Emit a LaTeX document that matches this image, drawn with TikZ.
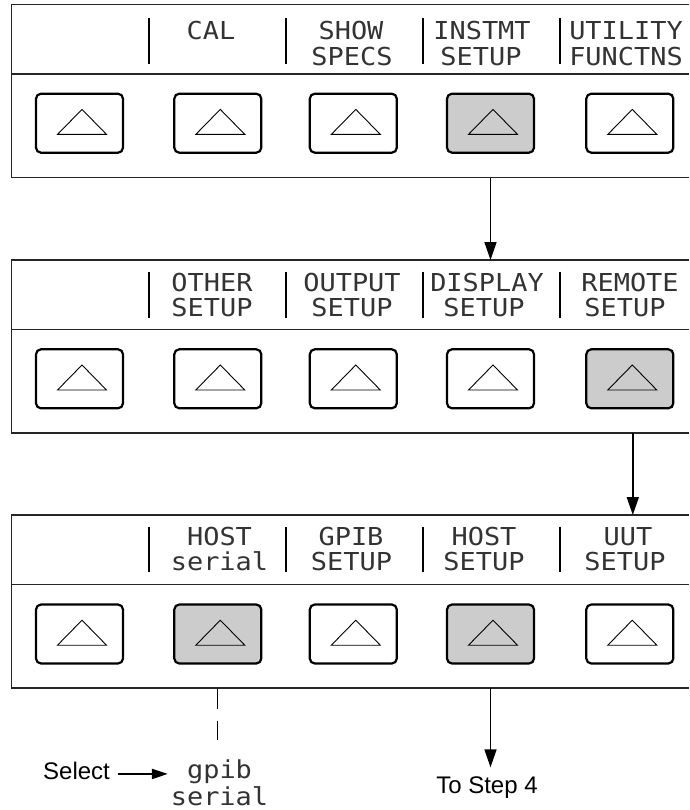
\documentclass[tikz,border=0pt]{standalone}
\usepackage{fontspec}
\setmainfont{Liberation Sans}
\newfontfamily\lcdfont[FakeStretch=1.09]{DejaVu Sans Mono}
\usetikzlibrary{arrows.meta}
\newcommand\keytri[1]{\draw[tri] ([shift={(2.5pt,13.8pt)}]#1.center) -- ([shift={(-22pt,-11.2pt)}]#1.center) -- ([shift={(27pt,-11.2pt)}]#1.center) -- cycle;}
\begin{document}
\begin{tikzpicture}[x=1pt,y=-1pt,
  panel/.style={draw=none, minimum width=677.5pt, minimum height=172.5pt, inner sep=0pt, anchor=north west},
  panelline/.style={line width=1.2pt, draw=black!85},
  key/.style={draw=black, line width=2.2pt, rounded corners=5pt, minimum width=87pt, minimum height=59pt, inner sep=0pt, fill=white},
  keyon/.style={key, fill=black!20},
  tri/.style={line width=0.9pt, draw=black},
  sepbar/.style={line width=2pt, draw=black},
  lcd/.style={inner sep=0pt, anchor=base, font=\lcdfont\fontsize{24.7}{26}\selectfont, text=black!80},
  lbl/.style={inner sep=0pt, anchor=base, font=\fontsize{24}{26}\selectfont},
  arr/.style={line width=1.6pt, draw=black, -{Triangle[length=18pt,width=12pt]}},
  arrs/.style={line width=2pt, draw=black, -{Triangle[length=16pt,width=10pt]}},
]
\useasboundingbox (0,0) rectangle (689,810);

% ---------- panels ----------
\node[panel] (p1) at (11.5,4.7) {};
\node[panel] (p2) at (11.5,260) {};
\node[panel] (p3) at (11.5,515) {};
\foreach \p in {p1,p2,p3}{
  \draw[panelline] (\p.north east) -- (\p.north west) -- (\p.south west) -- (\p.south east);
  \draw[panelline] ([yshift=-69.3pt]\p.north west) -- ([yshift=-69.3pt]\p.north east);
}

% separator bars
\foreach \x in {149,285.7,422.5,559.5}{
  \draw[sepbar] (\x,18.3) -- (\x,64);
  \draw[sepbar] (\x,271.7) -- (\x,318.3);
  \draw[sepbar] (\x,526.7) -- (\x,571.7);
}

% ---------- panel 1 ----------
\node[key]   (b11) at (79.5,123.2) {};
\node[key]   (b12) at (217.8,123.2) {};
\node[key]   (b13) at (353.3,123.2) {};
\node[keyon] (b14) at (490.5,123.2) {};
\node[key]   (b15) at (629.8,123.2) {};
\node[lcd] (t12a) at (211,39.3) {CAL};
\node[lcd] (t13a) at (351,39.3) {SHOW};
\node[lcd] (t13b) at (352,65.7) {SPECS};
\node[lcd] (t14a) at (482,39.3) {INSTMT};
\node[lcd] (t14b) at (481,65.7) {SETUP};
\node[lcd] (t15a) at (626,39.3) {UTILITY};
\node[lcd] (t15b) at (626,65.7) {FUNCTNS};

% ---------- panel 2 ----------
\node[key]   (b21) at (79.5,378.8) {};
\node[key]   (b22) at (217.8,378.8) {};
\node[key]   (b23) at (353.3,378.8) {};
\node[key]   (b24) at (490.5,378.8) {};
\node[keyon] (b25) at (629.8,378.8) {};
\node[lcd] (t22a) at (212,291) {OTHER};
\node[lcd] (t22b) at (212,316.7) {SETUP};
\node[lcd] (t23a) at (352,291) {OUTPUT};
\node[lcd] (t23b) at (352,316.7) {SETUP};
\node[lcd] (t24a) at (487,291) {DISPLAY};
\node[lcd] (t24b) at (484,316.7) {SETUP};
\node[lcd] (t25a) at (630,291) {REMOTE};
\node[lcd] (t25b) at (625,316.7) {SETUP};

% ---------- panel 3 ----------
\node[key]   (b31) at (79.5,634) {};
\node[keyon] (b32) at (217.8,634) {};
\node[key]   (b33) at (353.3,634) {};
\node[keyon] (b34) at (490.5,634) {};
\node[key]   (b35) at (629.8,634) {};
\node[lcd] (t32a) at (219.5,545) {HOST};
\node[lcd] (t32b) at (219.5,570.7) {serial};
\node[lcd] (t33a) at (351,545) {GPIB};
\node[lcd] (t33b) at (351.5,570.7) {SETUP};
\node[lcd] (t34a) at (484,545) {HOST};
\node[lcd] (t34b) at (484,570.7) {SETUP};
\node[lcd] (t35a) at (628,545) {UUT};
\node[lcd] (t35b) at (625,570.7) {SETUP};

% triangles on keys
\foreach \b in {b11,b12,b13,b14,b15,b21,b22,b23,b24,b25,b31,b32,b33,b34,b35}{\keytri{\b}}

% ---------- bottom texts ----------
\node[lbl, anchor=base west] (select) at (43,779.5) {Select};
\node[lcd] (opt1) at (219.5,778) {gpib};
\node[lcd] (opt2) at (219.5,805) {serial};
\node[lbl] (tostep) at (487,793.3) {To Step 4};
\coordinate (dashend) at (217.8,740);

% ---------- connectors ----------
\draw[arr] (b14 |- p1.south) -- (b14 |- p2.north);
\draw[arr] ([xshift=3pt]b25.center |- p2.south) -- ([xshift=3pt]b25.center |- p3.north);
\draw[arr, shorten >=9pt] (b34 |- p3.south) -- (b34 |- tostep.north);
\draw[line width=1pt, dash pattern=on 20pt off 12pt, dash phase=-1pt] (b32 |- p3.south) -- (dashend);
\draw[arrs, shorten <=8pt, shorten >=19pt] ([yshift=-3pt]select.east) -- ([yshift=-3pt]select.east -| opt1.west);
\end{tikzpicture}
\end{document}
